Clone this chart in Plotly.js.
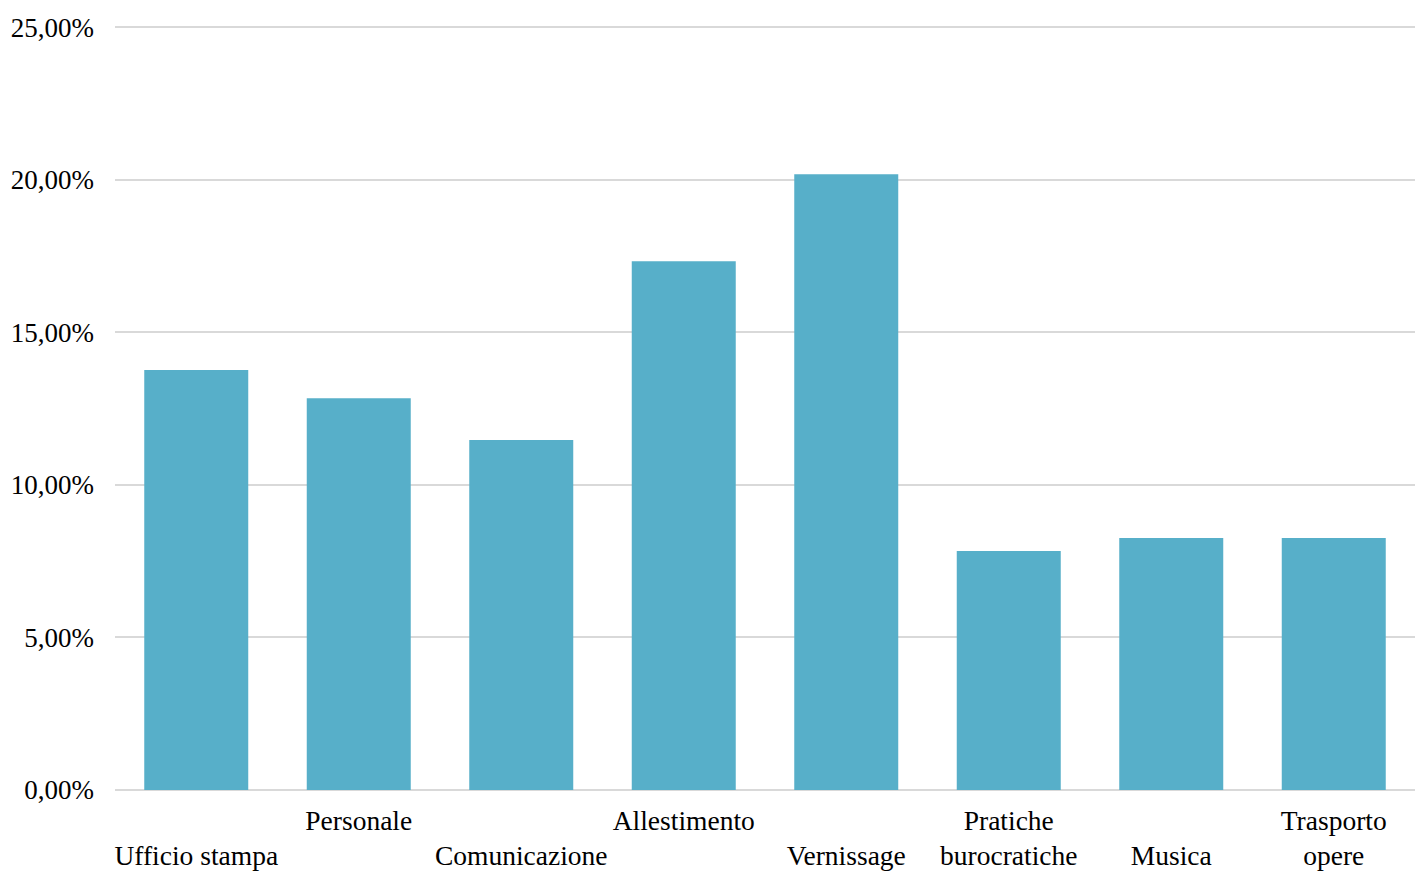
<!DOCTYPE html>
<html>
<head>
<meta charset="utf-8">
<script src="https://cdn.plot.ly/plotly-3.0.1.min.js"></script>
<style>html,body{margin:0;padding:0;background:#fff;}#chart{width:1415px;height:873px;}</style>
</head>
<body>
<div id="chart"></div>
<script>
const categories = ["Ufficio stampa", "Personale", "Comunicazione", "Allestimento", "Vernissage", "Pratiche burocratiche", "Musica", "Trasporto opere"];
const tickLabels = [" <br>Ufficio stampa", "Personale", " <br>Comunicazione", "Allestimento", " <br>Vernissage", "Pratiche<br>burocratiche", " <br>Musica", "Trasporto<br>opere"];
const values = [13.76, 12.84, 11.47, 17.33, 20.18, 7.83, 8.26, 8.26];
const yTicks = [0, 5, 10, 15, 20, 25];
const yTickLabels = ["0,00%", "5,00%", "10,00%", "15,00%", "20,00%", "25,00%"];

const trace = {
  type: "bar",
  x: categories,
  y: values,
  marker: {color: "#57afc9"},
  hoverinfo: "none"
};

const serif = "Liberation Serif, Times New Roman, serif";

const layout = {
  width: 1415, height: 873,
  margin: {l: 115, r: 0, t: 21, b: 83},
  paper_bgcolor: "#ffffff",
  plot_bgcolor: "#ffffff",
  bargap: 0.36,
  showlegend: false,
  font: {family: serif, color: "#000000"},
  xaxis: {
    type: "category",
    tickvals: categories,
    ticktext: tickLabels,
    tickfont: {size: 27.5, family: serif, color: "#000"},
    showgrid: false,
    showline: false,
    ticks: "",
    tickangle: 0,
    ticklabelstandoff: 11,
    automargin: false
  },
  yaxis: {
    range: [0, 25.2],
    tickvals: yTicks,
    ticktext: yTickLabels,
    tickfont: {size: 27, family: serif, color: "#000"},
    showgrid: true,
    gridcolor: "#d9d9d9",
    gridwidth: 2,
    zeroline: true,
    zerolinecolor: "#d9d9d9",
    zerolinewidth: 2,
    showline: false,
    ticks: "",
    ticklabelstandoff: 20,
    automargin: false
  }
};

Plotly.newPlot("chart", [trace], layout, {displayModeBar: false, staticPlot: true});
</script>
</body>
</html>
